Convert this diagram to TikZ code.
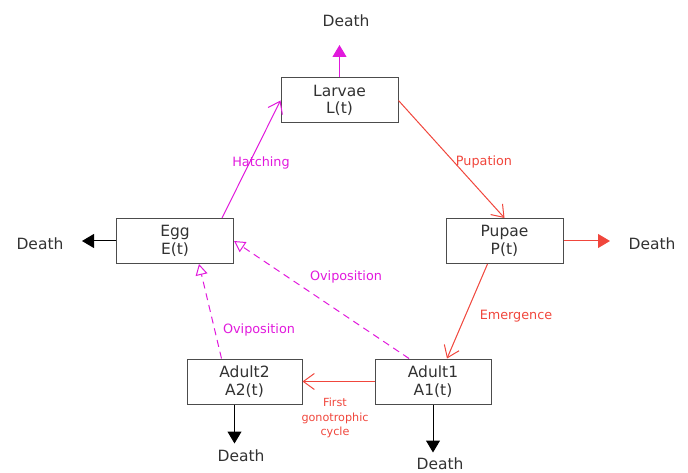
\documentclass[tikz,border=0pt]{standalone}
\usepackage{fontspec}
\setmainfont{DejaVu Sans}
\usetikzlibrary{arrows.meta}
\definecolor{mag}{RGB}{225,25,220}
\definecolor{lred}{RGB}{240,70,60}
\definecolor{txt}{RGB}{50,50,50}

\begin{document}
\begin{tikzpicture}[x=1pt,y=-1pt,
  stage/.style={rectangle,draw=black!70,line width=1pt,fill=white,align=center,
    minimum width=117pt,minimum height=45pt,inner sep=0pt,text=txt,
    font=\fontsize{15.5}{17.5}\selectfont},
  death/.style={text=txt,inner sep=0pt,font=\fontsize{15.5}{17.5}\selectfont},
  lbl/.style={inner sep=0pt,font=\fontsize{12.8}{14}\selectfont},
  kill/.style={line width=1pt,-{Triangle[length=12pt,width=14pt]}},
  flow/.style={line width=1pt,-{Straight Barb[length=11pt,width=16pt]}},
  lay/.style={line width=1pt,dashed,dash pattern=on 7pt off 5pt,-{Triangle[open,length=11pt,width=12pt]}}]
  \useasboundingbox (0,0) rectangle (688,473);
  \node[stage] (larvae) at (339.5,100.5) {Larvae\\L(t)};
  \node[stage] (egg) at (175,241) {Egg\\E(t)};
  \node[stage] (pupae) at (504.5,241) {Pupae\\P(t)};
  \node[stage,minimum width=115pt] (adult2) at (244.5,381.5) {Adult2\\A2(t)};
  \node[stage,minimum width=116pt] (adult1) at (433,381.5) {Adult1\\A1(t)};
  \node[death] (dL) at (346,21) {Death};
  \node[death] (dE) at (40,244) {Death};
  \node[death] (dP) at (652,244) {Death};
  \node[death] (dA2) at (241,456) {Death};
  \node[death] (dA1) at (440,464) {Death};
  % deaths
  \draw[kill,mag] (larvae.north) -- (larvae.north |- 0,45);
  \draw[kill,black] (egg.west) -- (82,241);
  \draw[kill,lred] (pupae.east) -- (610,241);
  \draw[kill,black] ([xshift=-10pt]adult2.south) -- ++(0,39);
  \draw[kill,black] (adult1.south) -- ++(0,48);
  % transitions
  \draw[flow,mag] ([xshift=47pt]egg.north) -- (larvae.west);
  \draw[flow,lred] (larvae.east) -- (pupae.north);
  \draw[flow,lred] ([xshift=-17pt]pupae.south) -- ([xshift=14pt]adult1.north);
  \draw[flow,lred] (adult1.west) -- (adult2.east);
  \draw[lay,mag] ([xshift=-24pt]adult1.north) -- (egg.east);
  \draw[lay,mag] ([xshift=-23pt]adult2.north) -- ([xshift=24pt]egg.south);
  % labels
  \node[lbl,mag] (hatch) at (261,163) {Hatching};
  \node[lbl,lred] (pupa) at (484,162) {Pupation};
  \node[lbl,lred] (emerg) at (516,316) {Emergence};
  \node[lbl,mag] (ovi1) at (346,277) {Oviposition};
  \node[lbl,mag] (ovi2) at (259,330) {Oviposition};
  \node[lbl,lred,align=center,font=\fontsize{11.2}{14.5}\selectfont] (gono) at (335,418) {First\\gonotrophic\\cycle};
\end{tikzpicture}
\end{document}
